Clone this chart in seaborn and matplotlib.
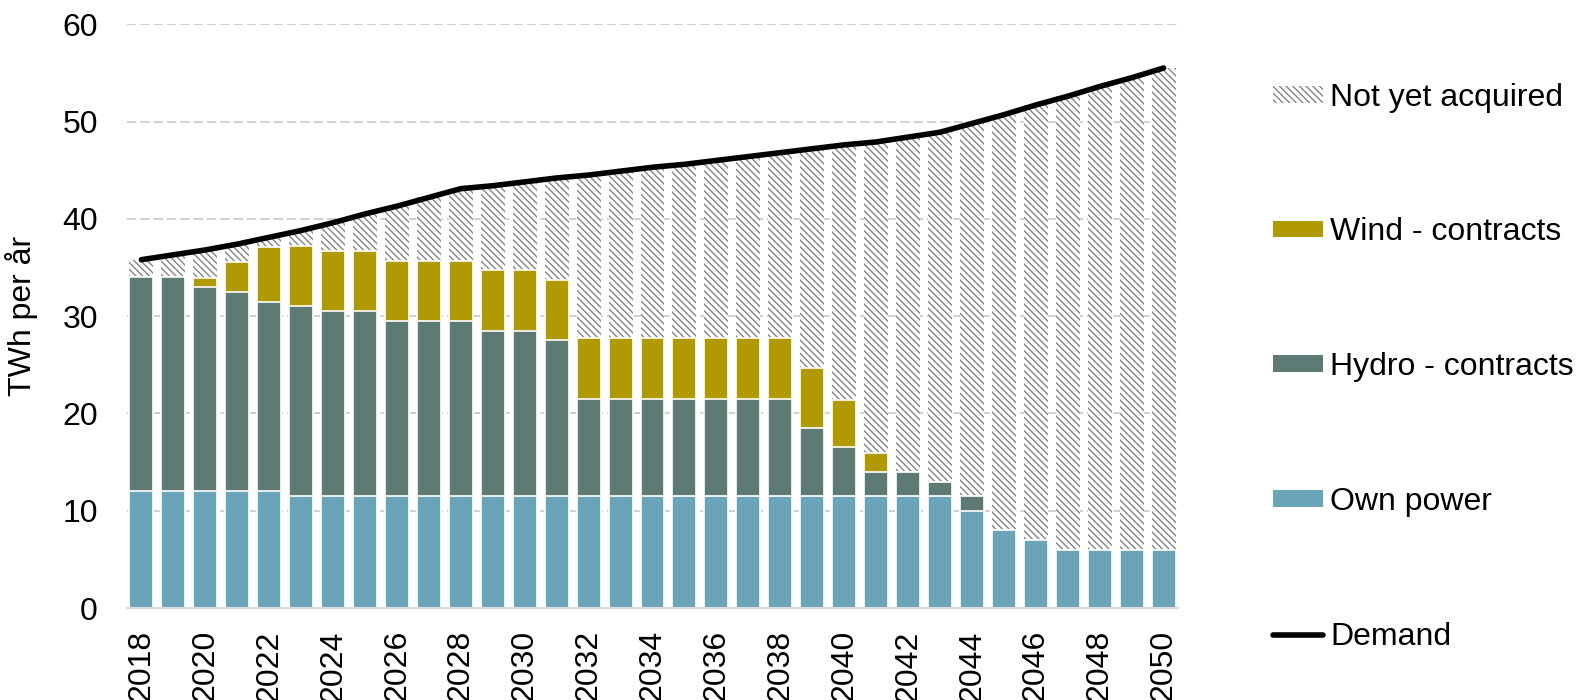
import numpy as np
import pandas as pd
import matplotlib
matplotlib.use("Agg")
import matplotlib.pyplot as plt
from matplotlib.patches import Patch
from matplotlib.lines import Line2D
import seaborn as sns

# Electricity supply vs. demand, TWh per year
years = list(range(2018, 2051))

own_power = [12, 12, 12, 12, 12,
             11.5, 11.5, 11.5, 11.5, 11.5, 11.5, 11.5, 11.5, 11.5, 11.5,
             11.5, 11.5, 11.5, 11.5, 11.5, 11.5, 11.5, 11.5, 11.5, 11.5,
             11.5, 10, 8, 7, 6, 6, 6, 6]

hydro_contracts = [22, 22, 21, 20.5, 19.5, 19.5, 19, 19, 18, 18, 18, 17, 17, 16,
                   10, 10, 10, 10, 10, 10, 10,
                   7, 5, 2.5, 2.5, 1.5, 1.5,
                   0, 0, 0, 0, 0, 0]

wind_contracts = [0, 0, 0.9, 3.1, 5.6, 6.2, 6.2, 6.2, 6.2, 6.2, 6.2, 6.2, 6.2, 6.2,
                  6.2, 6.2, 6.2, 6.2, 6.2, 6.2, 6.2,
                  6.2, 4.9, 1.9, 0, 0, 0,
                  0, 0, 0, 0, 0, 0]

demand = [35.8, 36.3, 36.8, 37.4, 38.1, 38.8, 39.6, 40.5, 41.3, 42.2, 43.1,
          43.4, 43.8, 44.2, 44.5, 44.9, 45.3, 45.6, 46.0, 46.4, 46.8, 47.2,
          47.6, 47.9, 48.4, 48.9, 49.8, 50.7, 51.7, 52.6, 53.6, 54.5, 55.5]

series_labels = ["Not yet acquired", "Wind - contracts", "Hydro - contracts",
                 "Own power", "Demand"]

OWN = "#6aa4b9"
HYDRO = "#5e7a74"
WIND = "#b09a00"
HATCH_GREY = "#858585"
HATCH = "\\\\\\\\\\"
FS = 23

sns.set_theme(style="white")
plt.rcParams["font.family"] = ["Liberation Sans", "DejaVu Sans"]
plt.rcParams["hatch.linewidth"] = 1.0
plt.rcParams["text.color"] = "black"
plt.rcParams["axes.labelcolor"] = "black"
plt.rcParams["xtick.color"] = "black"
plt.rcParams["ytick.color"] = "black"

df = pd.DataFrame({
    "year": [str(y) for y in years],
    "own": own_power,
    "hydro": hydro_contracts,
    "wind": wind_contracts,
    "demand": demand,
})
df["own_hydro"] = df["own"] + df["hydro"]
df["contracted"] = df["own_hydro"] + df["wind"]
order = df["year"].tolist()

fig = plt.figure(figsize=(15.78, 7.0), dpi=100)
ax = fig.add_axes([0.0805, 0.1314, 0.666, 0.834])

common = dict(data=df, x="year", order=order, ax=ax, width=0.75,
              saturation=1, errorbar=None)

# layered bars: the hatched bar reaches demand, contracted layers cover its lower part
sns.barplot(y="demand", color="white", edgecolor=HATCH_GREY, linewidth=0,
            hatch=HATCH, **common)
sns.barplot(y="contracted", color=WIND, edgecolor="white", linewidth=1.2, **common)
sns.barplot(y="own_hydro", color=HYDRO, edgecolor="white", linewidth=1.2, **common)
sns.barplot(y="own", color=OWN, edgecolor="white", linewidth=1.2, **common)

sns.lineplot(x=np.arange(len(years)), y=df["demand"].values, color="black",
             linewidth=4.0, ax=ax, solid_capstyle="round", zorder=5)

ax.set_xlim(-0.45, len(years) - 0.55)
ax.set_ylim(0, 60)
ax.set_yticks(range(0, 61, 10))
ax.set_axisbelow(True)
ax.grid(axis="y", color="#c8c8c8", linewidth=1.2, linestyle=(0, (5.6, 2.4)))
ax.grid(axis="x", visible=False)

xt = np.arange(0, len(years), 2)
ax.set_xticks(xt)
ax.set_xticklabels([str(years[i]) for i in xt], rotation=90, fontsize=FS)
ax.tick_params(axis="x", length=0, pad=16)
ax.tick_params(axis="y", length=0, pad=21, labelsize=FS)

for side in ["left", "right", "top"]:
    ax.spines[side].set_visible(False)
ax.spines["bottom"].set_color("#d9d9d9")
ax.spines["bottom"].set_linewidth(1.5)

ax.set_xlabel("")
ax.set_ylabel("TWh per år", fontsize=FS)
ax.yaxis.set_label_coords(-0.0844, 0.5)

handles = [
    Patch(facecolor="white", edgecolor=HATCH_GREY, hatch=HATCH, linewidth=0),
    Patch(facecolor=WIND, edgecolor="none"),
    Patch(facecolor=HYDRO, edgecolor="none"),
    Patch(facecolor=OWN, edgecolor="none"),
    Line2D([0], [0], color="black", linewidth=4.0, solid_capstyle="round"),
]
fig.legend(handles, series_labels, loc="upper left",
           bbox_to_anchor=(0.807, 0.882), frameon=False, fontsize=FS,
           handlelength=1.56, handleheight=0.43, handletextpad=0.21,
           labelspacing=3.28, borderpad=0, borderaxespad=0)

fig.savefig("out.png", dpi=100)
